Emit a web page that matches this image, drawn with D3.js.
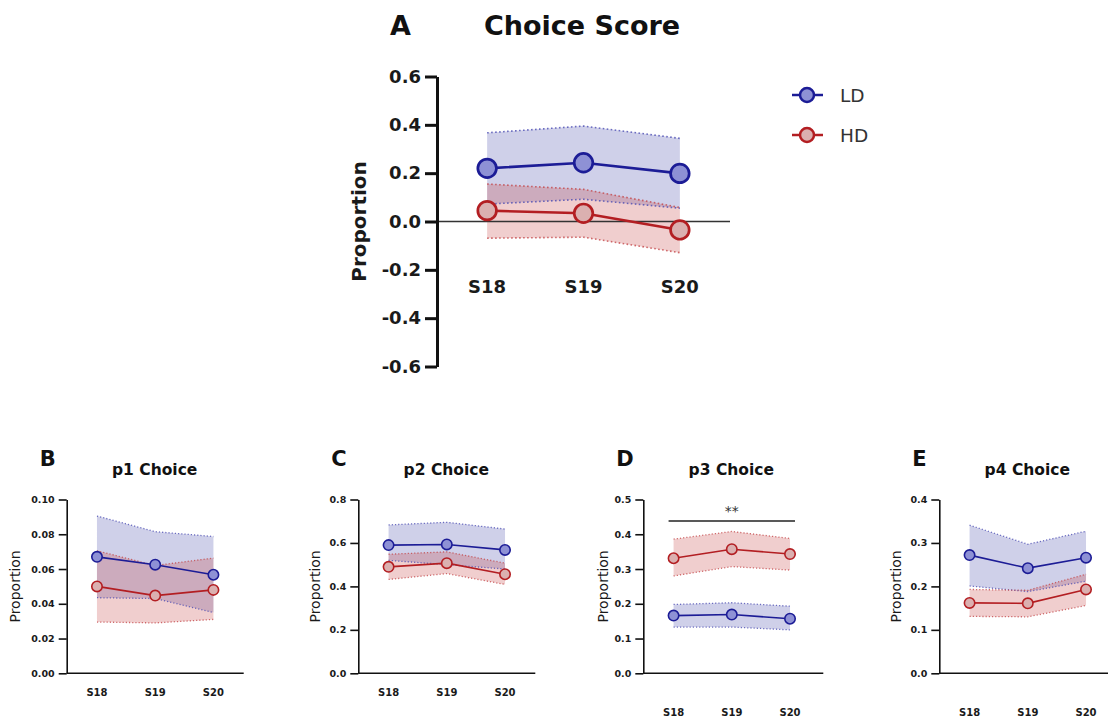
<!DOCTYPE html>
<html>
<head>
<meta charset="utf-8">
<script src="https://cdn.jsdelivr.net/npm/d3@7"></script>
<style>
  body { margin: 0; background: #fff; }
  svg { display: block; font-family: "DejaVu Sans", sans-serif; }
</style>
</head>
<body>
<svg id="chart" width="1108" height="722"></svg>
<script>
var sessions = ["S18", "S19", "S20"];
var groups = ["LD", "HD"];

// A - choice score
var scoreLD = [0.220, 0.243, 0.199];
var scoreLDLow = [0.072, 0.092, 0.055];
var scoreLDHigh = [0.367, 0.395, 0.344];
var scoreHD = [0.045, 0.034, -0.035];
var scoreHDLow = [-0.069, -0.065, -0.129];
var scoreHDHigh = [0.155, 0.133, 0.058];
var scoreTicks = [-0.6, -0.4, -0.2, 0, 0.2, 0.4, 0.6];

// B - p1
var p1LD = [0.067, 0.0625, 0.0567];
var p1LDLow = [0.0435, 0.043, 0.035];
var p1LDHigh = [0.0905, 0.0815, 0.0787];
var p1HD = [0.050, 0.0447, 0.048];
var p1HDLow = [0.0295, 0.029, 0.031];
var p1HDHigh = [0.0705, 0.062, 0.0663];
var p1Ticks = [0, 0.02, 0.04, 0.06, 0.08, 0.10];

// C - p2
var p2LD = [0.590, 0.593, 0.568];
var p2LDLow = [0.52, 0.50, 0.48];
var p2LDHigh = [0.683, 0.695, 0.664];
var p2HD = [0.490, 0.507, 0.456];
var p2HDLow = [0.432, 0.459, 0.409];
var p2HDHigh = [0.548, 0.559, 0.507];
var p2Ticks = [0, 0.2, 0.4, 0.6, 0.8];

// D - p3
var p3LD = [0.166, 0.169, 0.157];
var p3LDLow = [0.133, 0.133, 0.125];
var p3LDHigh = [0.198, 0.203, 0.193];
var p3HD = [0.331, 0.357, 0.343];
var p3HDLow = [0.280, 0.307, 0.297];
var p3HDHigh = [0.386, 0.408, 0.388];
var p3Ticks = [0, 0.1, 0.2, 0.3, 0.4, 0.5];

// E - p4
var p4LD = [0.272, 0.242, 0.266];
var p4LDLow = [0.201, 0.188, 0.212];
var p4LDHigh = [0.341, 0.297, 0.327];
var p4HD = [0.162, 0.161, 0.193];
var p4HDLow = [0.131, 0.130, 0.156];
var p4HDHigh = [0.193, 0.191, 0.228];
var p4Ticks = [0, 0.1, 0.2, 0.3, 0.4];

var colors = {
  LD: { line: "#1c1c96", fill: "#8e91d5", band: "#3f43a6", dots: "#4b4cb3" },
  HD: { line: "#b31e22", fill: "#dbb0b0", band: "#c23b3b", dots: "#c4474a" }
};

var svg = d3.select("#chart");

function drawPanel(p) {
  var g = svg.append("g").attr("transform", "translate(" + p.left + ",0)");

  var x = d3.scalePoint().domain(sessions).range([0, p.width]).padding(0.52);
  var y = d3.scaleLinear().domain(p.domain).range([p.bottom, p.top]);

  var series = [
    { key: "LD", mean: p.ld, low: p.ldLow, high: p.ldHigh },
    { key: "HD", mean: p.hd, low: p.hdLow, high: p.hdHigh }
  ];
  var idx = [0, 1, 2];

  // bands
  series.forEach(function(s) {
    var area = d3.area()
      .x(function(i) { return x(sessions[i]); })
      .y0(function(i) { return y(s.low[i]); })
      .y1(function(i) { return y(s.high[i]); });
    g.append("path")
      .attr("d", area(idx))
      .attr("fill", colors[s.key].band)
      .attr("fill-opacity", 0.25);
  });

  // dotted band edges
  series.forEach(function(s) {
    [s.low, s.high].forEach(function(arr) {
      var edge = d3.line()
        .x(function(i) { return x(sessions[i]); })
        .y(function(i) { return y(arr[i]); });
      g.append("path")
        .attr("d", edge(idx))
        .attr("fill", "none")
        .attr("stroke", colors[s.key].dots)
        .attr("stroke-width", p.dotW)
        .attr("stroke-dasharray", p.dash)
        .attr("stroke-opacity", 0.8);
    });
  });

  // x axis (zero line)
  var xAxis = g.append("g")
    .attr("transform", "translate(0," + y(0) + ")")
    .call(d3.axisBottom(x).tickValues([]).tickSizeOuter(0));
  xAxis.select(".domain")
    .attr("stroke", p.zeroColor)
    .attr("stroke-width", p.zeroW)
    .attr("d", "M0,0H" + p.xAxisLen);

  // y axis
  var yAxis = g.append("g")
    .call(d3.axisLeft(y).tickValues(p.ticks).tickSize(p.tickLen)
      .tickSizeOuter(0).tickPadding(p.tickPad).tickFormat(d3.format(p.fmt)));
  yAxis.select(".domain").attr("stroke", "#111").attr("stroke-width", p.axisW);
  yAxis.selectAll(".tick line").attr("stroke", "#111").attr("stroke-width", p.axisW);
  yAxis.selectAll(".tick text")
    .attr("fill", "#1a1a1a")
    .style("font-family", "DejaVu Sans")
    .style("font-weight", "bold")
    .style("font-size", p.tickFont + "px")
    .text(function(d) { return d3.format(p.fmt)(d).replace("−", "-"); });

  // lines + markers
  series.forEach(function(s) {
    var line = d3.line()
      .x(function(i) { return x(sessions[i]); })
      .y(function(i) { return y(s.mean[i]); });
    g.append("path")
      .attr("d", line(idx))
      .attr("fill", "none")
      .attr("stroke", colors[s.key].line)
      .attr("stroke-width", p.lineW);
  });
  series.forEach(function(s) {
    g.selectAll(null)
      .data(idx)
      .enter().append("circle")
      .attr("cx", function(i) { return x(sessions[i]); })
      .attr("cy", function(i) { return y(s.mean[i]); })
      .attr("r", p.r)
      .attr("fill", colors[s.key].fill)
      .attr("stroke", colors[s.key].line)
      .attr("stroke-width", p.markW);
  });

  // x labels
  g.selectAll(null)
    .data(sessions)
    .enter().append("text")
    .attr("x", function(d) { return x(d); })
    .attr("y", p.xLabelY)
    .attr("text-anchor", "middle")
    .attr("fill", "#1a1a1a")
    .style("font-weight", "bold")
    .style("font-size", p.xFont + "px")
    .text(function(d) { return d; });

  // y title
  g.append("text")
    .attr("transform", "translate(" + p.yTitleX + "," + ((p.top + p.bottom) / 2) + ") rotate(-90)")
    .attr("text-anchor", "middle")
    .attr("fill", "#1a1a1a")
    .style("font-weight", p.yTitleWeight)
    .style("font-size", p.yTitleFont + "px")
    .text("Proportion");

  // panel letter + title
  g.append("text")
    .attr("x", p.letterX)
    .attr("y", p.letterY)
    .attr("fill", "#111")
    .style("font-weight", "bold")
    .style("font-size", p.letterFont + "px")
    .text(p.letter);
  g.append("text")
    .attr("x", p.titleX)
    .attr("y", p.titleY)
    .attr("text-anchor", p.titleAnchor)
    .attr("fill", "#111")
    .style("font-weight", "bold")
    .style("font-size", p.titleFont + "px")
    .text(p.title);

  if (p.sig) {
    g.append("line")
      .attr("x1", x(sessions[0]) - 5)
      .attr("x2", x(sessions[2]) + 5)
      .attr("y1", p.sig.y)
      .attr("y2", p.sig.y)
      .attr("stroke", "#222")
      .attr("stroke-width", 1.3);
    g.append("text")
      .attr("x", x(sessions[1]))
      .attr("y", p.sig.y - 5)
      .attr("text-anchor", "middle")
      .attr("fill", "#333")
      .style("font-size", "14px")
      .text(p.sig.text);
  }
}

// main panel
drawPanel({
  left: 437, width: 293, top: 76.5, bottom: 366.5, domain: [-0.6, 0.6],
  ld: scoreLD, ldLow: scoreLDLow, ldHigh: scoreLDHigh,
  hd: scoreHD, hdLow: scoreHDLow, hdHigh: scoreHDHigh,
  ticks: scoreTicks, fmt: ".1f", tickLen: 12, tickPad: 4, tickFont: 18,
  axisW: 3, zeroW: 1.5, zeroColor: "#333", xAxisLen: 293,
  lineW: 2.6, r: 9.3, markW: 2.7, dotW: 1.6, dash: "1.6,2.4",
  xLabelY: 293, xFont: 18,
  yTitleX: -71, yTitleFont: 20, yTitleWeight: "bold",
  letter: "A", letterX: -47, letterY: 35, letterFont: 27,
  title: "Choice Score", titleX: 47, titleY: 35, titleAnchor: "start", titleFont: 27
});

var smallPanels = [
  { left: 66.7, letter: "B", title: "p1 Choice", domain: [0, 0.10], ticks: p1Ticks, fmt: ".2f",
    ld: p1LD, ldLow: p1LDLow, ldHigh: p1LDHigh, hd: p1HD, hdLow: p1HDLow, hdHigh: p1HDHigh,
    xLabelY: 695.5, yTitleX: -46.5, xAxisLen: 177 },
  { left: 358.3, letter: "C", title: "p2 Choice", domain: [0, 0.8], ticks: p2Ticks, fmt: ".1f",
    ld: p2LD, ldLow: p2LDLow, ldHigh: p2LDHigh, hd: p2HD, hdLow: p2HDLow, hdHigh: p2HDHigh,
    xLabelY: 695.5, yTitleX: -38.5, xAxisLen: 177 },
  { left: 643.3, letter: "D", title: "p3 Choice", domain: [0, 0.5], ticks: p3Ticks, fmt: ".1f",
    ld: p3LD, ldLow: p3LDLow, ldHigh: p3LDHigh, hd: p3HD, hdLow: p3HDLow, hdHigh: p3HDHigh,
    xLabelY: 716, yTitleX: -35, xAxisLen: 180, sig: { y: 521, text: "**" } },
  { left: 939.3, letter: "E", title: "p4 Choice", domain: [0, 0.4], ticks: p4Ticks, fmt: ".1f",
    ld: p4LD, ldLow: p4LDLow, ldHigh: p4LDHigh, hd: p4HD, hdLow: p4HDLow, hdHigh: p4HDHigh,
    xLabelY: 716, yTitleX: -38, xAxisLen: 180 }
];

smallPanels.forEach(function(sp) {
  drawPanel(Object.assign({
    width: 177, top: 499.5, bottom: 673.3,
    tickLen: 8, tickPad: 4, tickFont: 9.5, axisW: 1.6, zeroW: 1.6, zeroColor: "#111",
    lineW: 1.6, r: 5.2, markW: 1.6, dotW: 1.3, dash: "1.2,2",
    xFont: 10, yTitleFont: 14, yTitleWeight: "normal",
    letterX: -27, letterY: 466, letterFont: 21,
    titleX: 88, titleY: 474.5, titleAnchor: "middle", titleFont: 15.5
  }, sp));
});

// legend
var legend = svg.append("g").attr("transform", "translate(807,95)");
groups.forEach(function(k, i) {
  var row = legend.append("g").attr("transform", "translate(0," + (i * 40) + ")");
  row.append("line")
    .attr("x1", -15).attr("x2", 16)
    .attr("stroke", colors[k].line).attr("stroke-width", 2.5);
  row.append("circle")
    .attr("r", 7)
    .attr("fill", colors[k].fill)
    .attr("stroke", colors[k].line).attr("stroke-width", 2.5);
  row.append("text")
    .attr("x", 33).attr("dy", "0.36em")
    .attr("fill", "#333")
    .style("font-size", "18.5px")
    .text(k);
});
</script>
</body>
</html>
